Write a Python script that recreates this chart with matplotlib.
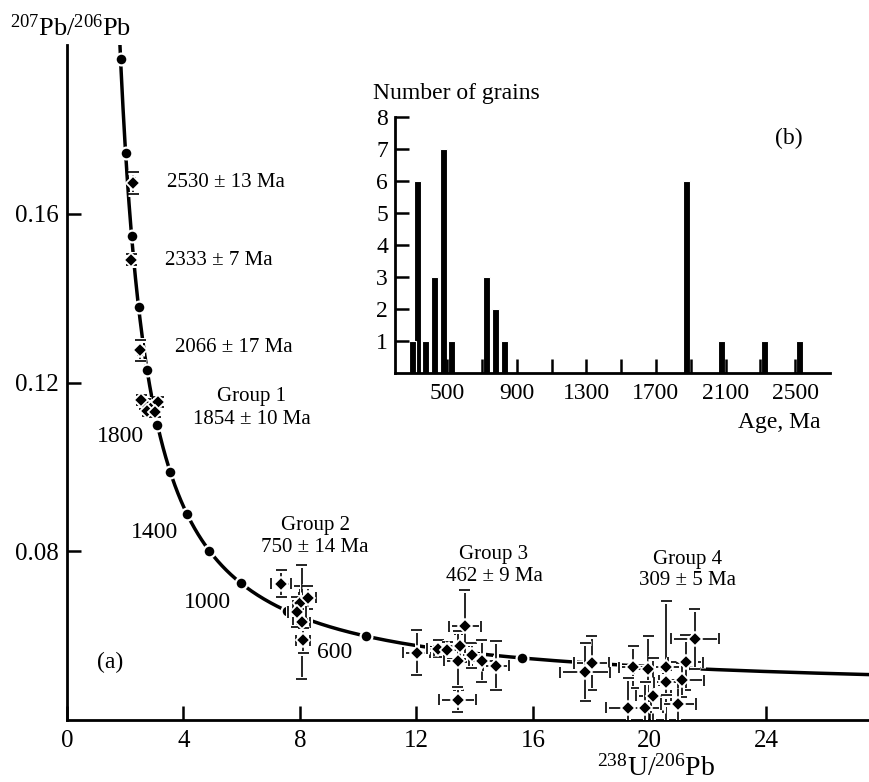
import numpy as np
import matplotlib
matplotlib.use('Agg')
import matplotlib.pyplot as plt
import matplotlib.patheffects as pe

plt.rcParams['font.family'] = ['Liberation Serif', 'DejaVu Serif']
plt.rcParams['mathtext.fontset'] = 'custom'
plt.rcParams['mathtext.rm'] = 'Liberation Serif'
plt.rcParams['mathtext.it'] = 'Liberation Serif:italic'
plt.rcParams['font.size'] = 16

# decay constants for the Tera-Wasserburg concordia
L238 = 1.55125e-10
L235 = 9.8485e-10
U_RATIO = 137.88

# ages (Ma) marked on the concordia
concordia_ticks = [400, 600, 800, 1000, 1200, 1400, 1600, 1800, 2000,
                   2200, 2400, 2600, 2800]
concordia_labels = ['1800', '1400', '1000', '600']
concordia_label_x = [1.85, 3.02, 4.81, 9.18]
concordia_label_y = [0.1073, 0.0845, 0.0679, 0.0559]

# zircon analyses: 238U/206Pb, 207Pb/206Pb and their errors
u_pb = [2.27, 2.20, 2.51,
        2.68, 2.91, 3.13, 2.76, 2.55, 3.02,
        7.35, 8.00, 8.06, 8.26, 7.89, 8.11,
        12.01, 12.75, 13.06, 13.49, 13.44, 13.66, 13.41, 13.89, 14.24, 14.73,
        18.01, 17.79, 19.44, 19.96, 20.57, 21.24, 21.56, 21.11, 20.13, 19.27,
        19.85, 20.99, 20.57]
pb_pb = [0.1674, 0.1491, 0.1277,
         0.1149, 0.1143, 0.1154, 0.1132, 0.1158, 0.1130,
         0.0723, 0.0677, 0.0632, 0.0690, 0.0656, 0.0589,
         0.0560, 0.0569, 0.0565, 0.0575, 0.0541, 0.0622, 0.0448, 0.0553,
         0.0540, 0.0529,
         0.0535, 0.0513, 0.0525, 0.0522, 0.0525, 0.0537, 0.0593, 0.0494,
         0.0458, 0.0429, 0.0429, 0.0438, 0.0489]
u_pb_err = [0.05, 0.06, 0.06,
            0.10, 0.10, 0.10, 0.10, 0.10, 0.10,
            0.33, 0.25, 0.30, 0.30, 0.30, 0.25,
            0.46, 0.40, 0.45, 0.45, 0.50, 0.54, 0.65, 0.40, 0.45, 0.45,
            0.60, 0.86, 0.50, 0.50, 0.50, 0.60, 0.83, 0.77, 0.60, 0.77,
            0.60, 0.60, 0.40]
pb_pb_err = [0.0026, 0.0013, 0.0025,
             0.0012, 0.0012, 0.0012, 0.0012, 0.0012, 0.0012,
             0.0032, 0.0040, 0.0135, 0.0028, 0.0035, 0.0030,
             0.0053, 0.0020, 0.0020, 0.0030, 0.0071, 0.0085, 0.0030, 0.0030,
             0.0050, 0.0058,
             0.0065, 0.0069, 0.0050, 0.0076, 0.0158, 0.0065, 0.0071, 0.0040,
             0.0090, 0.0070, 0.0060, 0.0050, 0.0030]

# group annotations: name, age, x, y of first and second line
group_names = ['Group 1', 'Group 2', 'Group 3', 'Group 4']
group_ages = ['1854 \u00b1 10 Ma', '750 \u00b1 14 Ma', '462 \u00b1 9 Ma',
              '309 \u00b1 5 Ma']
group_x = [6.35, 8.52, 14.66, 21.32]
group_y1 = [0.1168, 0.0862, 0.0792, 0.0780]
group_y2 = [0.1112, 0.0808, 0.0741, 0.0730]

# histogram of ages
hist_age = [328, 302, 376, 425, 477, 526, 725, 777, 827, 1878, 2074, 2322, 2525]
hist_count = [6, 1, 1, 3, 7, 1, 3, 2, 1, 6, 1, 1, 1]


def concordia(t_ma):
    t = np.asarray(t_ma, dtype=float) * 1e6
    e238 = np.exp(L238 * t) - 1
    e235 = np.exp(L235 * t) - 1
    return 1 / e238, e235 / (e238 * U_RATIO)


fig = plt.figure(figsize=(8.69, 7.82), dpi=100)
ax = fig.add_axes([0.0771, 0.0793, 0.923, 0.863])

# concordia line and age marks
t_line = np.linspace(200, 2950, 600)
cx, cy = concordia(t_line)
ax.plot(cx, cy, color='black', lw=2.5, zorder=2)
dx, dy = concordia(concordia_ticks)
ax.plot(dx, dy, 'o', color='black', ms=8.5, mec='white', mew=1.6, zorder=3)

halo = [pe.withStroke(linewidth=3.6, foreground='white')]
for x, y, xe, ye in zip(u_pb, pb_pb, u_pb_err, pb_pb_err):
    cont = ax.errorbar(x, y, xerr=xe, yerr=ye, fmt='none', ecolor='black',
                       elinewidth=1.2, capsize=4, capthick=1.2, zorder=4)
    for ln in cont.lines[1]:
        ln.set_path_effects(halo)
    for lc in cont.lines[2]:
        lc.set_path_effects(halo)
    ax.plot(x, y, 'D', color='black', ms=7, mec='white', mew=1.3, zorder=5)

for lab, lx, ly in zip(concordia_labels, concordia_label_x, concordia_label_y):
    ax.text(lx, ly, lab, ha='center', va='center', fontsize=17)

ax.text(3.43, 0.1674, '2530 \u00b1 13 Ma', ha='left', va='center', fontsize=15)
ax.text(3.36, 0.1489, '2333 \u00b1 7 Ma', ha='left', va='center', fontsize=15)
ax.text(3.71, 0.1283, '2066 \u00b1 17 Ma', ha='left', va='center', fontsize=15)
for name, age, gx, y1, y2 in zip(group_names, group_ages, group_x,
                                 group_y1, group_y2):
    ax.text(gx, y1, name, ha='center', va='center', fontsize=15)
    ax.text(gx, y2, age, ha='center', va='center', fontsize=15)
ax.text(1.47, 0.0536, '(a)', ha='center', va='center', fontsize=17)

ax.set_xlim(0, 27.54)
ax.set_ylim(0.04, 0.2)
ax.set_xticks([0, 4, 8, 12, 16, 20, 24])
ax.set_yticks([0.08, 0.12, 0.16])
ax.set_yticklabels(['0.08', '0.12', '0.16'])
for s in ['top', 'right']:
    ax.spines[s].set_visible(False)
for s in ['left', 'bottom']:
    ax.spines[s].set_linewidth(2)
ax.tick_params(direction='in', length=10, width=1.8, labelsize=18)
ax.tick_params(axis='x', pad=7)
ax.tick_params(axis='y', pad=6)

fig.text(10 / 869, 1 - 36 / 782, '$^{207}$Pb/$^{206}$Pb', ha='left',
         va='baseline', fontsize=19)
fig.text(597 / 869, 1 - 776 / 782, '$^{238}$U/$^{206}$Pb', ha='left',
         va='baseline', fontsize=20)

# inset histogram
ax2 = fig.add_axes([0.4545, 0.523, 0.5006, 0.3274])
ax2.patch.set_alpha(0)
ax2.bar(hist_age, hist_count, width=40, color='black', edgecolor='white',
        linewidth=0.8)
ax2.set_xlim(200, 2700)
ax2.set_ylim(0, 8)
ax2.set_xticks([500, 900, 1300, 1700, 2100, 2500])
ax2.set_xticks([300, 700, 1100, 1500, 1900, 2300], minor=True)
ax2.set_yticks([1, 2, 3, 4, 5, 6, 7, 8])
for s in ['top', 'right']:
    ax2.spines[s].set_visible(False)
for s in ['left', 'bottom']:
    ax2.spines[s].set_linewidth(2)
ax2.tick_params(which='both', direction='in', length=10, width=1.8,
                labelsize=17)
ax2.tick_params(axis='x', pad=7)
ax2.tick_params(axis='y', pad=5)
ax2.text(2464, 7.34, '(b)', ha='center', va='center', fontsize=17)
fig.text(373 / 869, 1 - 99 / 782, 'Number of grains', ha='left',
         va='baseline', fontsize=17)
fig.text(820 / 869, 1 - 428 / 782, 'Age, Ma', ha='right', va='baseline',
         fontsize=17)

fig.savefig('out.png', dpi=100)
